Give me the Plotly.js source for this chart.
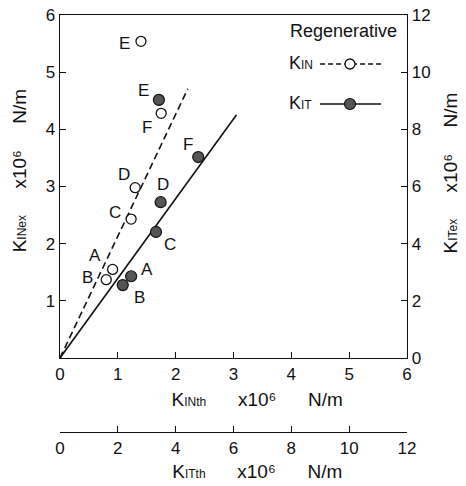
<!DOCTYPE html>
<html>
<head>
<meta charset="utf-8">
<script src="https://cdn.plot.ly/plotly-3.0.1.min.js"></script>
<style>html,body{margin:0;padding:0;background:#fff;}#chart{width:466px;height:486px;}</style>
</head>
<body>
<div id="chart"></div>
<script>
// ---- data ----
const pointLabels = ['A', 'B', 'C', 'D', 'E', 'F'];
// K_IN : experimental vs theoretical (x10^6 N/m), left / main bottom axes
const kinTh = [0.91, 0.80, 1.23, 1.30, 1.40, 1.75];
const kinEx = [1.55, 1.37, 2.43, 2.98, 5.54, 4.28];
// K_IT : experimental vs theoretical (x10^6 N/m), right / second bottom axes
const kitTh = [2.46, 2.17, 3.32, 3.48, 3.42, 4.78];
const kitEx = [2.86, 2.55, 4.41, 5.45, 9.03, 7.03];
// fitted lines
const kinFitTh = [0, 2.21];
const kinFitEx = [0, 4.71];
const kitFitTh = [0, 6.10];
const kitFitEx = [0, 8.50];
// tick values
const mainTicks = [0, 1, 2, 3, 4, 5, 6];
const leftTicks = [1, 2, 3, 4, 5, 6];
const itTicks = [0, 2, 4, 6, 8, 10, 12];

// ---- styles ----
const FONT = 'Liberation Sans, Arial, sans-serif';
const INK = '#111';
const kinShift = [[-18, 14], [-19, 2], [-16, 7], [-11, 13], [-16, -2], [-14, -14]];
const kitShift = [[16, 7], [17, -12], [14, -13], [2, 18], [-15, 9], [-10, 13]];
const sp = n => '\u00a0'.repeat(n);
const pad = n => '\u200b' + sp(n);
const small = s => '<span style="font-size:12px">' + s + '</span>';
const axTitle = (pre, sub, gap) => pad(pre) + 'K' + small(sub) + sp(gap) + 'x10\u2076' + sp(gap) + 'N/m';

const traces = [
  {x: kinFitTh, y: kinFitEx, xaxis: 'x', yaxis: 'y', mode: 'lines',
   line: {color: INK, width: 1.6, dash: '7px,4px'}, hoverinfo: 'skip', showlegend: false},
  {x: kinTh, y: kinEx, xaxis: 'x', yaxis: 'y', mode: 'markers', name: 'K_IN',
   marker: {symbol: 'circle', size: 10, color: '#fff', line: {color: INK, width: 1.3}}, showlegend: false},
  {x: kitFitTh, y: kitFitEx, xaxis: 'x2', yaxis: 'y2', mode: 'lines',
   line: {color: INK, width: 1.6}, hoverinfo: 'skip', showlegend: false},
  {x: kitTh, y: kitEx, xaxis: 'x2', yaxis: 'y2', mode: 'markers', name: 'K_IT',
   marker: {symbol: 'circle', size: 11, color: '#555', line: {color: INK, width: 1.2}}, showlegend: false}
];

const titleFont = {size: 19, color: INK, family: FONT};
const annotations = [];
pointLabels.forEach((t, i) => {
  annotations.push({x: kinTh[i], y: kinEx[i], xref: 'x', yref: 'y', text: t, showarrow: false,
    xshift: kinShift[i][0], yshift: kinShift[i][1], font: {size: 17, color: INK, family: FONT}});
  annotations.push({x: kitTh[i], y: kitEx[i], xref: 'x2', yref: 'y2', text: t, showarrow: false,
    xshift: kitShift[i][0], yshift: kitShift[i][1], font: {size: 17, color: INK, family: FONT}});
});
// right axis title (as rotated text)
annotations.push({xref: 'paper', yref: 'paper', x: 1.124, y: 0.62, textangle: -90,
  text: 'K' + small('ITex') + sp(5) + 'x10\u2076' + sp(5) + 'N/m',
  showarrow: false, xanchor: 'center', yanchor: 'middle', font: titleFont});
// legend (drawn by hand: text first, symbol after)
annotations.push({xref: 'paper', yref: 'paper', x: 0.8156, y: 0.9616, text: 'Regenerative',
  showarrow: false, xanchor: 'center', yanchor: 'middle', font: {size: 18, color: INK, family: FONT}});
annotations.push({xref: 'paper', yref: 'paper', x: 0.654, y: 0.885, text: 'K' + small('IN'),
  showarrow: false, xanchor: 'left', yanchor: 'middle', font: {size: 18, color: INK, family: FONT}});
annotations.push({xref: 'paper', yref: 'paper', x: 0.654, y: 0.789, text: 'K' + small('IT'),
  showarrow: false, xanchor: 'left', yanchor: 'middle', font: {size: 18, color: INK, family: FONT}});

const px2x = p => (p - 60) / 347;
const px2y = p => (432 - p) / 417;
const shapes = [
  {type: 'line', xref: 'paper', yref: 'paper', x0: px2x(320), x1: px2x(381), y0: px2y(64), y1: px2y(64),
   line: {color: INK, width: 1.6, dash: '5px,3px'}},
  {type: 'circle', xref: 'paper', yref: 'paper',
   x0: px2x(345), x1: px2x(355), y0: px2y(69), y1: px2y(59),
   fillcolor: '#fff', line: {color: INK, width: 1.3}},
  {type: 'line', xref: 'paper', yref: 'paper', x0: px2x(320), x1: px2x(381), y0: px2y(104), y1: px2y(104),
   line: {color: INK, width: 1.6}},
  {type: 'circle', xref: 'paper', yref: 'paper',
   x0: px2x(344.5), x1: px2x(355.5), y0: px2y(109.5), y1: px2y(98.5),
   fillcolor: '#555', line: {color: INK, width: 1.2}}
];

const axisCommon = {
  showgrid: false, zeroline: false, showline: true, linecolor: INK, linewidth: 1.3,
  ticks: 'inside', ticklen: 6, tickwidth: 1.2, tickcolor: INK,
  tickfont: {size: 17, color: INK, family: FONT}, fixedrange: true
};

const layout = {
  width: 466, height: 486,
  margin: {l: 60, r: 59, t: 15, b: 54},
  paper_bgcolor: '#fff', plot_bgcolor: '#fff',
  showlegend: false,
  font: {family: FONT, color: INK},
  xaxis: Object.assign({}, axisCommon, {
    range: [0, 6], tickvals: mainTicks, anchor: 'y', mirror: true, domain: [0, 1],
    title: {text: axTitle(9, 'INth', 6), font: titleFont, standoff: 10}
  }),
  yaxis: Object.assign({}, axisCommon, {
    range: [0, 6], tickvals: leftTicks, anchor: 'x', domain: [0.1775, 1],
    title: {text: axTitle(6, 'INex', 5), font: titleFont, standoff: 14}
  }),
  xaxis2: Object.assign({}, axisCommon, {
    range: [0, 12], tickvals: itTicks, overlaying: 'x', anchor: 'free', position: 0, side: 'bottom', domain: [0, 1],
    title: {text: axTitle(9, 'ITth', 6), font: titleFont, standoff: 8}
  }),
  yaxis2: Object.assign({}, axisCommon, {
    range: [0, 12], tickvals: itTicks, overlaying: 'y', anchor: 'x', side: 'right'
  }),
  annotations: annotations,
  shapes: shapes
};

Plotly.newPlot('chart', traces, layout, {displayModeBar: false, staticPlot: true});
</script>
</body>
</html>
